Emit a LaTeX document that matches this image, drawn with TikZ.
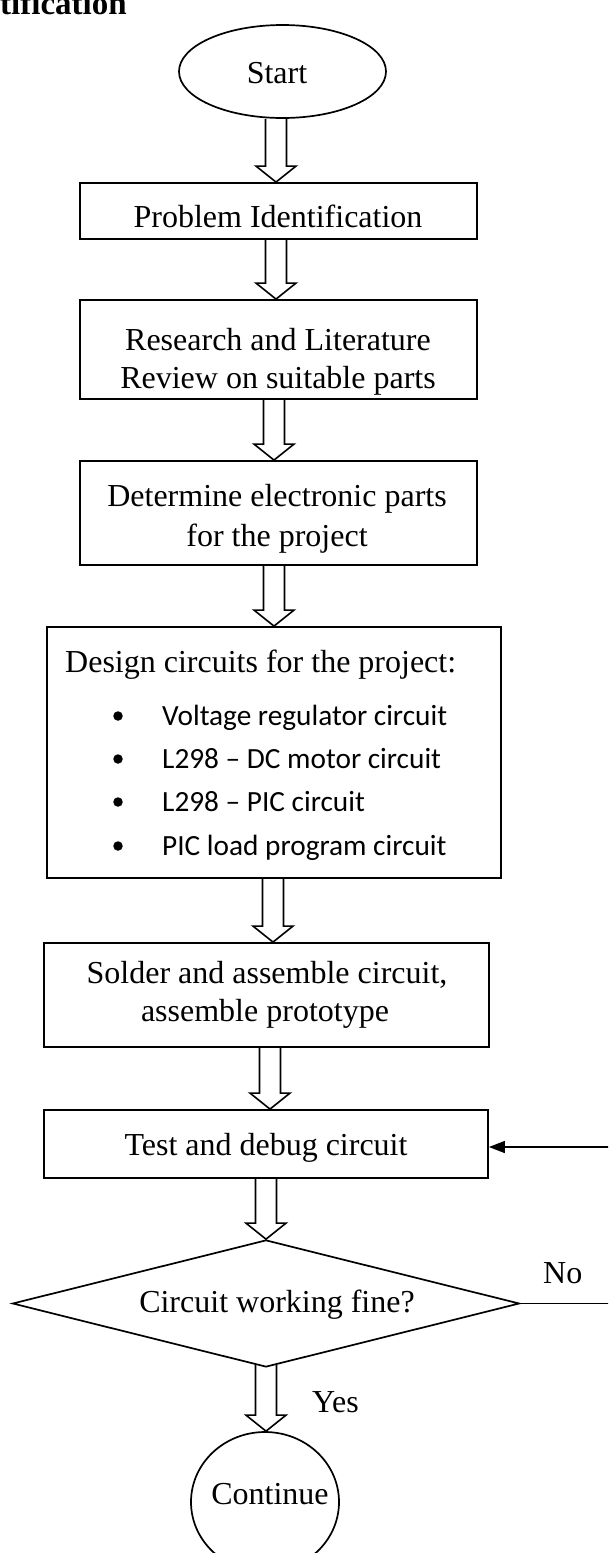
\documentclass[tikz,border=0pt]{standalone}
\usepackage{fontspec}
\setmainfont{Liberation Serif}
\newfontfamily\calibrifont{Carlito}
\usetikzlibrary{shapes.geometric,arrows.meta,calc}
\tikzset{
  box/.style={draw, line width=1.8pt, rectangle, inner sep=0pt},
  roundbox/.style={draw, line width=1.7pt, ellipse, inner sep=0pt},
  txt/.style={inner sep=0pt, anchor=base, font=\fontsize{32}{37}\selectfont},
  ltxt/.style={inner sep=0pt, anchor=base west, font=\fontsize{32}{37}\selectfont},
  btxt/.style={inner sep=0pt, anchor=base west, font=\calibrifont\fontsize{29.3}{34}\selectfont},
  bulletdot/.style={circle, fill=black, inner sep=0pt, minimum size=9.5pt},
  blockar/.style={draw, line width=1.6pt, line join=miter},
  fbline/.style={draw, line width=1.5pt},
}
% #1 extra start offset, #2 from node, #3 to node, #4 x centre
\newcommand\blockarrow[4][0]{%
  \draw[blockar] let \p1=(#2.south), \p2=(#3.north) in
    (#4pt-10.5pt,\y1+#1pt) -- (#4pt-10.5pt,\y2+16pt) -- (#4pt-20pt,\y2+16pt)
    -- (#4pt,\y2) -- (#4pt+20pt,\y2+16pt) -- (#4pt+10.5pt,\y2+16pt)
    -- (#4pt+10.5pt,\y1+#1pt);}
\begin{document}
\begin{tikzpicture}[x=1pt,y=-1pt]
\useasboundingbox (0,0) rectangle (608,1553);
\clip (0,0) rectangle (608,1553);
\fill[white] (0,0) rectangle (608,1553);

\node[ltxt, font=\bfseries\fontsize{33}{38}\selectfont] (head) at (0,14) {tification};

% shapes
\node[roundbox, minimum width=207pt, minimum height=93pt] (start) at (282.5,71.5) {};
\node[box, minimum width=397pt, minimum height=56pt] (prob) at (278.5,211) {};
\node[box, minimum width=397pt, minimum height=99pt] (res) at (278.5,349.5) {};
\node[box, minimum width=397pt, minimum height=104pt] (det) at (278.5,513) {};
\node[box, minimum width=454pt, minimum height=251pt] (design) at (274,752.5) {};
\node[box, minimum width=445pt, minimum height=104pt] (solder) at (266.5,995) {};
\node[box, minimum width=444pt, minimum height=68pt] (test) at (266,1144) {};
\node[draw, line width=1.7pt, diamond, inner sep=0pt, aspect=4,
      minimum width=507pt, minimum height=127pt] (dec) at (266,1303.5) {};
\node[roundbox, minimum width=148pt, minimum height=140pt] (cont) at (265,1502) {};

% texts
\node[txt] (start-t) at (277,83) {Start};
\node[txt] (prob-t) at (278,227) {Problem Identification};
\node[txt] (res-t1) at (278,350) {Research and Literature};
\node[txt] (res-t2) at (278,388) {Review on suitable parts};
\node[txt] (det-t1) at (277,506) {Determine electronic parts};
\node[txt] (det-t2) at (277,546) {for the project};
\node[ltxt] (des-t) at (65,672) {Design circuits for the project:};
\node[bulletdot] (b1) at (118,716) {};
\node[bulletdot] (b2) at (118,759) {};
\node[bulletdot] (b3) at (118,802) {};
\node[bulletdot] (b4) at (118,846) {};
\node[btxt] (d1) at (162,725) {Voltage regulator circuit};
\node[btxt] (d2) at (162,768) {L298 – DC motor circuit};
\node[btxt] (d3) at (162,811) {L298 – PIC circuit};
\node[btxt] (d4) at (162,855) {PIC load program circuit};
\node[txt] (sol-t1) at (267,983) {Solder and assemble circuit,};
\node[txt] (sol-t2) at (265,1021) {assemble prototype};
\node[txt] (test-t) at (266,1155) {Test and debug circuit};
\node[txt] (dec-t) at (277,1312) {Circuit working fine?};
\node[txt] (cont-t) at (270,1504) {Continue};
\node[ltxt] (no) at (543,1283) {No};
\node[ltxt] (yes) at (312,1412) {Yes};

% block arrows
\blockarrow{start}{prob}{276}
\blockarrow{prob}{res}{276}
\blockarrow{res}{det}{274}
\blockarrow{det}{design}{274}
\blockarrow{design}{solder}{273}
\blockarrow{solder}{test}{270}
\blockarrow{test}{dec}{266}
\blockarrow[3]{dec}{cont}{266}

% feedback
\coordinate (fb1) at (620,1303.5);
\coordinate (fb2) at (620,1147);
\draw[fbline] (dec.east) -- (fb1) -- (fb2);
\draw[fbline, -{Triangle[length=16pt,width=12pt]}] (fb2) -- (test.east |- fb2);
\end{tikzpicture}
\end{document}
